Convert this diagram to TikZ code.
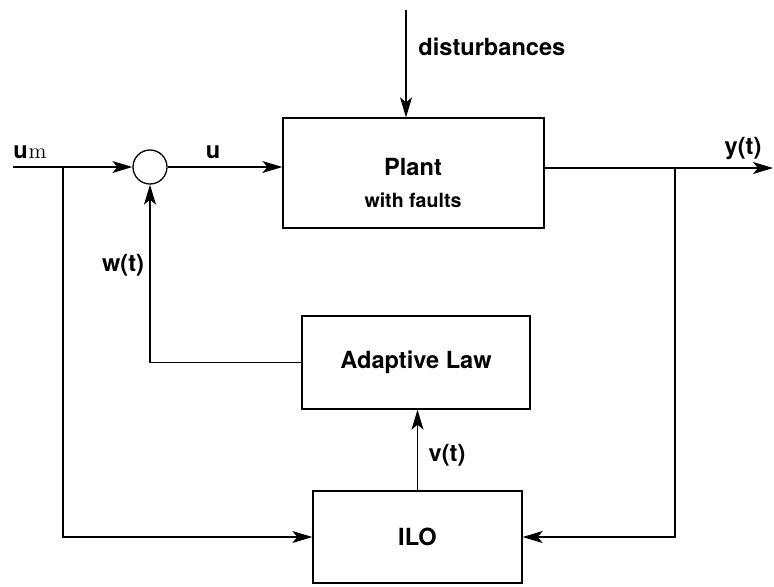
\documentclass[tikz,border=0pt]{standalone}
\usepackage{fontspec}
\newfontfamily\heros{TeX Gyre Heros}
\usetikzlibrary{arrows.meta,positioning,calc}
\tikzset{
  block/.style={draw,line width=0.65pt,fill=white,inner sep=0pt,
    font=\heros\bfseries\fontsize{11.8}{14}\selectfont},
  sumnode/.style={draw,circle,line width=0.65pt,minimum size=17pt,inner sep=0pt},
  lbl/.style={inner sep=0pt,font=\heros\bfseries\fontsize{11.8}{14}\selectfont},
  note/.style={lbl,font=\heros\bfseries\fontsize{9.8}{12}\selectfont},
  flow/.style={-{Stealth[length=10pt,width=6pt,inset=2.5pt]},line width=0.6pt}
}

\begin{document}
\begin{tikzpicture}[x=0.5pt,y=-0.5pt]
  \useasboundingbox (0,0) rectangle (774,586);
  % blocks
  \node[block,minimum width=130.5pt,minimum height=55pt] (plant) at (413.5,173) {};
  \node[lbl] (plantname) at (413,167) {Plant};
  \node[note] (plantnote) at (413,200) {with faults};
  \node[block,minimum width=114pt,minimum height=46.5pt] (adapt) at (416,362.5) {Adaptive Law};
  \node[block,minimum width=104.5pt,minimum height=46pt] (ilo) at (417.5,537) {ILO};
  \node[sumnode] (sum) at (150,167) {};
  % signal points
  \coordinate (in) at (13,167);
  \coordinate (umsplit) at (63,167);
  \coordinate (out) at (773,168);
  \coordinate (ysplit) at (675,168);
  \coordinate (dist) at (406,10);
  % labels
  \node[lbl] (umlbl) at (30,152) {u\kern0.5pt{\normalfont\rmfamily\fontsize{11}{13}\selectfont m}};
  \node[lbl] (ulbl) at (213,152) {u};
  \node[lbl] (ylbl) at (743,148) {y(t)};
  \node[lbl] (wlbl) at (123,265) {w(t)};
  \node[lbl] (vlbl) at (447,455) {v(t)};
  \node[lbl,anchor=west] (distlbl) at (418,47) {disturbances};
  % connections
  \draw[flow] (in) -- (sum);
  \draw[flow] (sum) -- (sum -| plant.west);
  \draw[flow] (dist) -- (dist |- plant.north);
  \draw[flow] (out -| plant.east) -- (out);
  \draw[flow] (umsplit) |- (ilo.west);
  \draw[flow] (ysplit) |- (ilo.east);
  \draw[flow] (ilo.north) -- (ilo.north |- adapt.south);
  \draw[flow] (adapt.west) -| (sum.south);
\end{tikzpicture}
\end{document}
